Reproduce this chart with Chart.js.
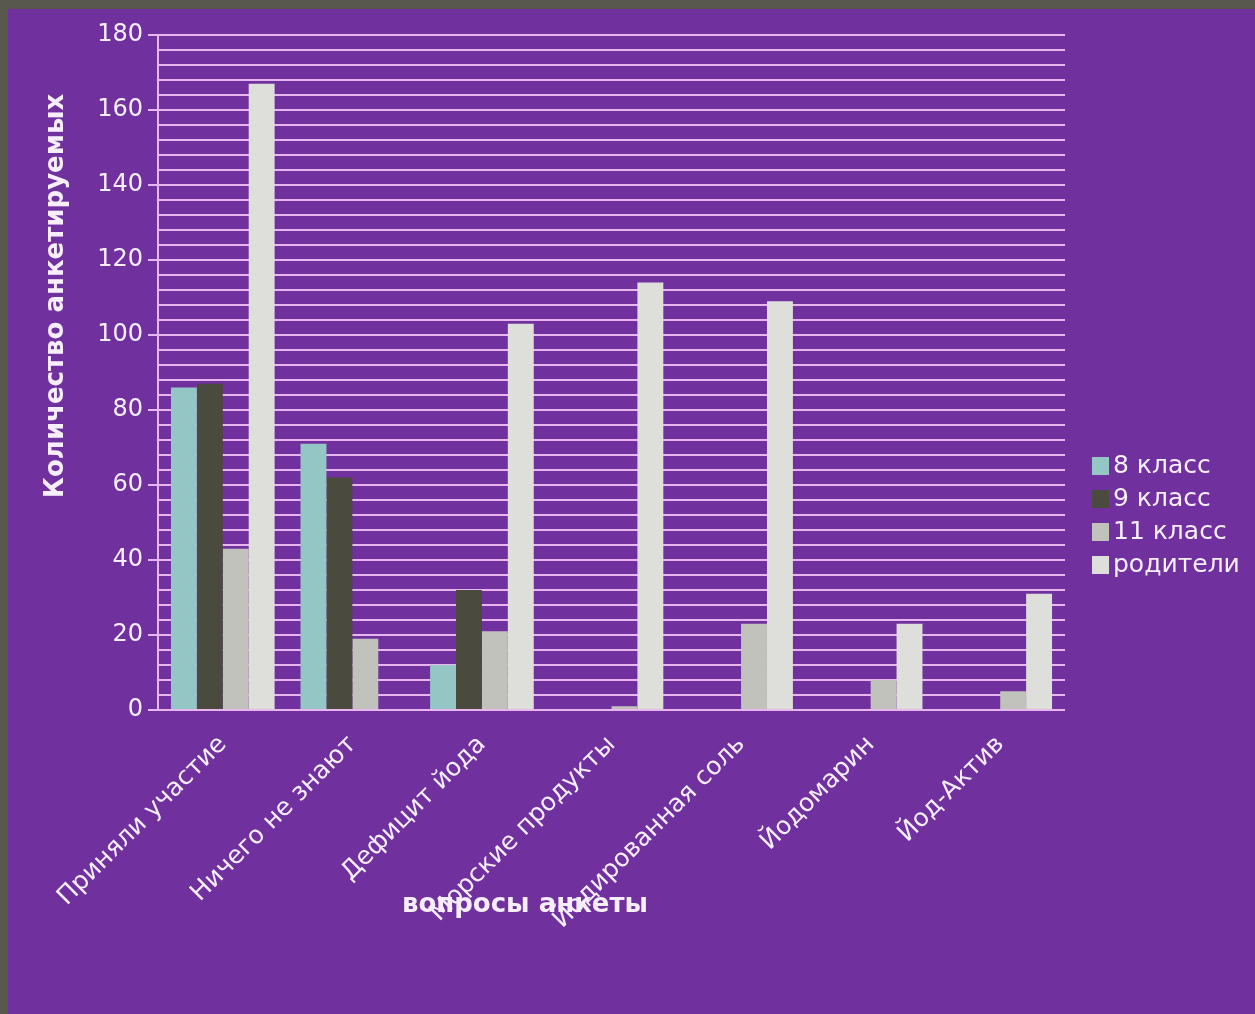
<!DOCTYPE html>
<html>
<head>
<meta charset="utf-8">
<script src="https://cdn.jsdelivr.net/npm/chart.js@4/dist/chart.umd.min.js"></script>
<style>
  html, body { margin: 0; padding: 0; background: #58584e; overflow: hidden; }
  .wrapper { position: absolute; left: 8px; top: 9px; width: 1247px; height: 1005px; background: #70309e; }
</style>
</head>
<body>
<div class="wrapper"><canvas id="stat" width="1247" height="1005"></canvas></div>
<script>
const categories = ["Приняли участие", "Ничего не знают", "Дефицит йода", "Морские продукты", "Йодированная соль", "Йодомарин", "Йод-Актив"];
const seriesNames = ["8 класс", "9 класс", "11 класс", "родители"];
const grade8 = [86, 71, 12, null, null, null, null];
const grade9 = [87, 62, 32, null, null, null, null];
const grade11 = [43, 19, 21, 1, 23, 8, 5];
const parents = [167, null, 103, 114, 109, 23, 31];
const colors = ["#93c6c4", "#4a4a3f", "#c2c2bc", "#dededa"];
const yTickLabels = [0, 20, 40, 60, 80, 100, 120, 140, 160, 180];

const gridColor = "#e7b6ef";
const textColor = "#f6eefa";
const font = "DejaVu Sans";

// axis titles and legend drawn at the positions they have in the picture
const extras = {
  id: "extras",
  afterDraw: (chart) => {
    const ctx = chart.ctx;
    ctx.save();
    ctx.fillStyle = textColor;
    ctx.font = "bold 26px " + font;
    ctx.textAlign = "center";
    ctx.textBaseline = "middle";
    ctx.fillText("вопросы анкеты", 517, 896);

    ctx.translate(48, 287);
    ctx.rotate(-Math.PI / 2);
    ctx.fillText("Количество анкетируемых", 0, 0);
    ctx.restore();

    ctx.save();
    ctx.font = "25px " + font;
    ctx.textBaseline = "middle";
    ctx.textAlign = "left";
    seriesNames.forEach((name, i) => {
      const y = 457 + i * 33;
      ctx.fillStyle = colors[i];
      ctx.fillRect(1084, y - 9, 17, 18);
      ctx.fillStyle = textColor;
      ctx.fillText(name, 1105, y);
    });
    ctx.restore();
  }
};

const ctx = document.querySelector("#stat").getContext("2d");

const chartData = {
  labels: categories,
  datasets: [grade8, grade9, grade11, parents].map((values, i) => ({
    label: seriesNames[i],
    data: values,
    backgroundColor: colors[i],
    borderWidth: 0,
    categoryPercentage: 0.8,
    barPercentage: 1.0,
  })),
};

const chart = new Chart(ctx, {
  type: "bar",
  data: chartData,
  plugins: [extras],
  options: {
    responsive: false,
    animation: false,
    layout: { padding: { top: 26, right: 190, left: 0, bottom: 0 } },
    plugins: {
      legend: { display: false },
      tooltip: { enabled: false },
    },
    scales: {
      x: {
        grid: { display: false },
        border: { display: false },
        ticks: {
          color: textColor,
          font: { family: font, size: 25 },
          minRotation: 45,
          maxRotation: 45,
          padding: 12,
        },
        afterFit: (scale) => { scale.height = 304; },
      },
      y: {
        min: 0,
        max: 180,
        border: { color: gridColor, width: 2 },
        grid: {
          color: gridColor,
          lineWidth: 2,
          tickLength: 10,
          tickColor: (c) => (yTickLabels.includes(c.tick.value) ? gridColor : "rgba(0,0,0,0)"),
        },
        ticks: {
          stepSize: 4,
          autoSkip: false,
          color: textColor,
          font: { family: font, size: 24 },
          padding: 5,
          callback: (v) => (yTickLabels.includes(v) ? v : ""),
        },
        afterFit: (scale) => { scale.width = 150; },
      },
    },
  },
});
</script>
</body>
</html>
